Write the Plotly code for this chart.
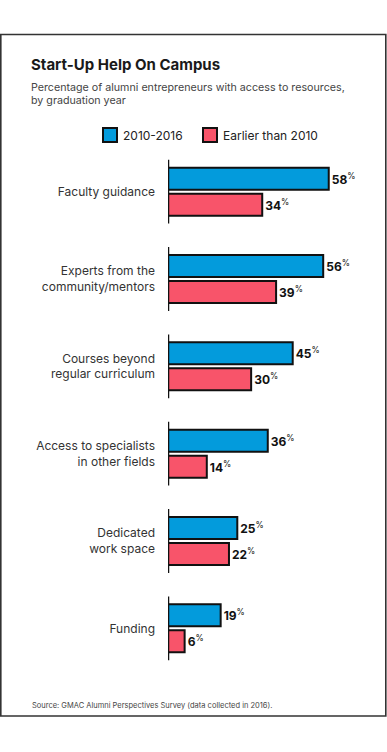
import plotly.graph_objects as go

categories = ["Faculty guidance", "Experts from the<br>community/mentors",
              "Courses beyond<br>regular curriculum", "Access to specialists<br>in other fields",
              "Dedicated<br>work space", "Funding"]
series_names = ["2010-2016", "Earlier than 2010"]
values_recent = [58, 56, 45, 36, 25, 19]
values_earlier = [34, 39, 30, 14, 22, 6]
colors = ["#039BDC", "#F8546A"]

W, H = 387, 752
ML, MR, MT, MB = 168, 25, 148, 80
PW, PH = W - ML - MR, H - MT - MB
FONT = "Inter"

def px(x):
    return (x - ML) / PW

def py(y):
    return (H - MB - y) / PH

fig = go.Figure()
for name, vals, col in zip(series_names, [values_recent, values_earlier], colors):
    fig.add_trace(go.Bar(
        y=categories, x=vals, orientation="h", name=name,
        marker=dict(color=col, line=dict(color="#111111", width=2)),
        text=[f"<b>{v}</b><sup>%</sup>" for v in vals],
        textposition="outside", cliponaxis=False,
        textfont=dict(family=FONT, size=12, color="#111111"),
        showlegend=False, hoverinfo="skip",
    ))

shapes = []
for i in range(len(categories)):
    shapes.append(dict(type="line", xref="x", yref="y", x0=0, x1=0,
                       y0=i - 0.365, y1=i + 0.365,
                       line=dict(color="#111111", width=2.5)))
shapes.append(dict(type="rect", xref="paper", yref="paper",
                   x0=px(0.8), x1=px(385.8), y0=py(716), y1=py(34.5),
                   line=dict(color="#333333", width=1.6)))

annotations = []
annotations.append(dict(xref="paper", yref="paper", x=px(29), y=py(65),
                        xanchor="left", yanchor="middle", showarrow=False,
                        text="<b>Start-Up Help On Campus</b>",
                        font=dict(family=FONT, size=15, color="#1a1a1a")))
annotations.append(dict(xref="paper", yref="paper", x=px(29), y=py(88),
                        xanchor="left", yanchor="middle", showarrow=False,
                        text="Percentage of alumni entrepreneurs with access to resources,",
                        font=dict(family=FONT, size=10.7, color="#444444")))
annotations.append(dict(xref="paper", yref="paper", x=px(29), y=py(101),
                        xanchor="left", yanchor="middle", showarrow=False,
                        text="by graduation year",
                        font=dict(family=FONT, size=10.7, color="#444444")))
legend_x = [102, 202]
for name, col, lx in zip(series_names, colors, legend_x):
    shapes.append(dict(type="rect", xref="paper", yref="paper",
                       x0=px(lx + 1), x1=px(lx + 15), y0=py(142), y1=py(128),
                       fillcolor=col, line=dict(color="#111111", width=2)))
    annotations.append(dict(xref="paper", yref="paper", x=px(lx + 19), y=py(135),
                            xanchor="left", yanchor="middle", showarrow=False,
                            text=name, font=dict(family=FONT, size=12, color="#222222")))
annotations.append(dict(xref="paper", yref="paper", x=px(30), y=py(705),
                        xanchor="left", yanchor="middle", showarrow=False,
                        text="Source: GMAC Alumni Perspectives Survey (data collected in 2016).",
                        font=dict(family=FONT, size=7.5, color="#444444")))

fig.update_layout(
    width=W, height=H, margin=dict(l=ML, r=MR, t=MT, b=MB),
    paper_bgcolor="white", plot_bgcolor="white",
    barmode="group", bargap=0.404, bargroupgap=0.154,
    font=dict(family=FONT),
    xaxis=dict(range=[0, 70], visible=False, fixedrange=True),
    yaxis=dict(autorange="reversed", showline=False, showgrid=False, zeroline=False,
               ticks="", ticklabelstandoff=12, fixedrange=True,
               tickfont=dict(family=FONT, size=12, color="#333333")),
    shapes=shapes, annotations=annotations,
)

fig.write_html("out.html", config={"displayModeBar": False},
               post_script="document.body.style.margin='0';document.body.style.overflow='hidden';")
